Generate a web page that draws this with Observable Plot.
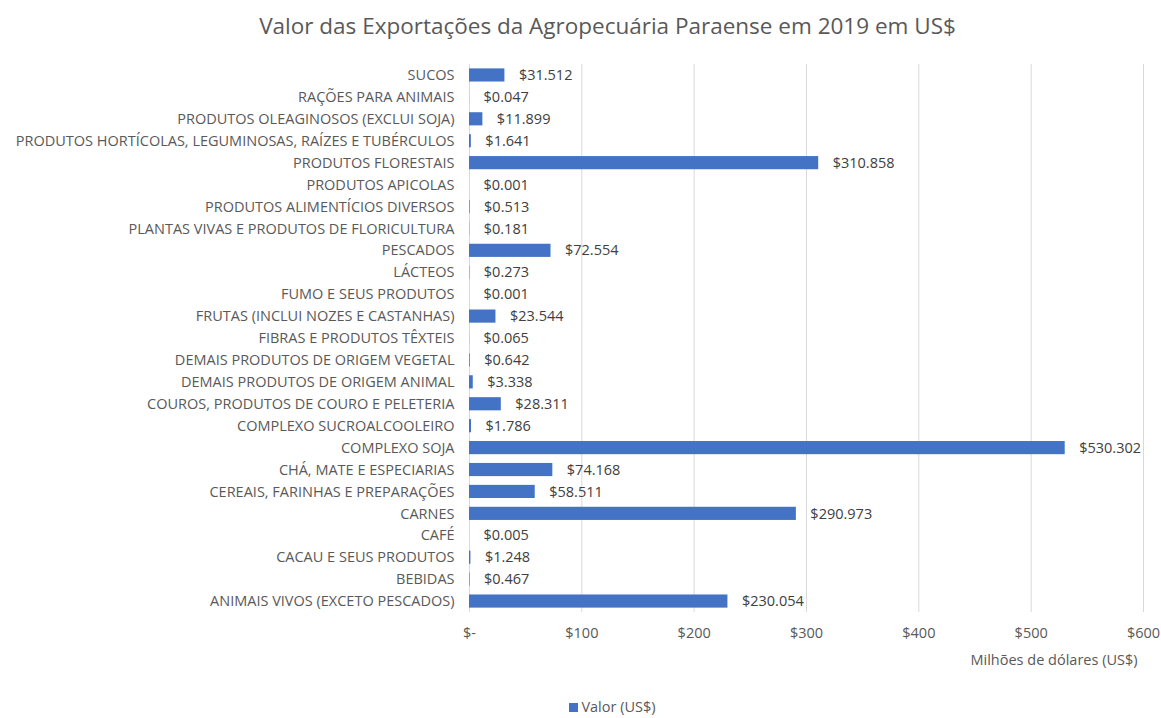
<!DOCTYPE html>
<html>
<head>
<meta charset="utf-8">
<script src="https://cdn.jsdelivr.net/npm/d3@7"></script>
<script src="https://cdn.jsdelivr.net/npm/@observablehq/plot@0.6"></script>
<style>
  body { margin: 0; background: #fff; font-family: "Open Sans", sans-serif; color: #595959; position: relative; width: 1161px; height: 718px; overflow: hidden; }
  #title { position: absolute; left: 54px; top: 0; width: 1107px; height: 52px; line-height: 52px; text-align: center; font-size: 22.5px; color: #595959; white-space: nowrap; }
  #chart { position: absolute; left: 0; top: 52px; }
  #legend { position: absolute; left: 0; width: 1161px; top: 698px; line-height: 18px; padding-left: 64px; box-sizing: border-box; text-align: center; font-size: 14.5px; color: #595959; }
  #legend span.sw { display: inline-block; width: 9px; height: 9px; background: #4472C4; margin-right: 3px; }
</style>
</head>
<body>
<div id="title">Valor das Exportações da Agropecuária Paraense em 2019 em US$</div>
<div id="chart"></div>
<div id="legend"><span class="sw"></span>Valor (US$)</div>
<script>
const categories = [
  "SUCOS",
  "RAÇÕES PARA ANIMAIS",
  "PRODUTOS OLEAGINOSOS (EXCLUI SOJA)",
  "PRODUTOS HORTÍCOLAS, LEGUMINOSAS, RAÍZES E TUBÉRCULOS",
  "PRODUTOS FLORESTAIS",
  "PRODUTOS APICOLAS",
  "PRODUTOS ALIMENTÍCIOS DIVERSOS",
  "PLANTAS VIVAS E PRODUTOS DE FLORICULTURA",
  "PESCADOS",
  "LÁCTEOS",
  "FUMO E SEUS PRODUTOS",
  "FRUTAS (INCLUI NOZES E CASTANHAS)",
  "FIBRAS E PRODUTOS TÊXTEIS",
  "DEMAIS PRODUTOS DE ORIGEM VEGETAL",
  "DEMAIS PRODUTOS DE ORIGEM ANIMAL",
  "COUROS, PRODUTOS DE COURO E PELETERIA",
  "COMPLEXO SUCROALCOOLEIRO",
  "COMPLEXO SOJA",
  "CHÁ, MATE E ESPECIARIAS",
  "CEREAIS, FARINHAS E PREPARAÇÕES",
  "CARNES",
  "CAFÉ",
  "CACAU E SEUS PRODUTOS",
  "BEBIDAS",
  "ANIMAIS VIVOS (EXCETO PESCADOS)"
];
const values = [
  31.512, 0.047, 11.899, 1.641, 310.858, 0.001, 0.513, 0.181, 72.554, 0.273,
  0.001, 23.544, 0.065, 0.642, 3.338, 28.311, 1.786, 530.302, 74.168, 58.511,
  290.973, 0.005, 1.248, 0.467, 230.054
];
const valueLabels = [
  "$31.512", "$0.047", "$11.899", "$1.641", "$310.858", "$0.001", "$0.513", "$0.181", "$72.554", "$0.273",
  "$0.001", "$23.544", "$0.065", "$0.642", "$3.338", "$28.311", "$1.786", "$530.302", "$74.168", "$58.511",
  "$290.973", "$0.005", "$1.248", "$0.467", "$230.054"
];
const xTicks = [0, 100, 200, 300, 400, 500, 600];
const xTickLabels = ["$-", "$100", "$200", "$300", "$400", "$500", "$600"];
const axisTitle = "Milhões de dólares (US$)";

const data = categories.map((c, i) => ({cat: c, value: values[i], label: valueLabels[i]}));

const chart = Plot.plot({
  width: 1161,
  height: 630,
  marginTop: 12,
  marginBottom: 70,
  marginLeft: 469,
  marginRight: 18,
  style: {fontFamily: "Open Sans, sans-serif", fontSize: "14.5px", color: "#595959"},
  x: {domain: [0, 600]},
  y: {domain: categories, paddingInner: 0.4, paddingOuter: 0.2, round: false},
  marks: [
    Plot.gridX(xTicks, {stroke: "#d9d9d9", strokeOpacity: 1}),
    Plot.barX(data, {y: "cat", x: "value", fill: "#4472C4"}),
    Plot.text(data, {y: "cat", x: "value", text: "label", textAnchor: "start", dx: 14, fill: "#404040", fontSize: 14.5}),
    Plot.axisY({tickSize: 0, tickPadding: 15, fontSize: 14.5, fill: "#595959", label: null}),
    Plot.axisX(xTicks, {tickSize: 0, tickPadding: 15, tickFormat: (d, i) => xTickLabels[i], fontSize: 14.5, fill: "#595959", label: null}),
    Plot.text([axisTitle], {frameAnchor: "bottom-right", textAnchor: "end", dx: -6, dy: 52, fill: "#595959", fontSize: 14.5})
  ]
});
document.getElementById("chart").appendChild(chart);
</script>
</body>
</html>
